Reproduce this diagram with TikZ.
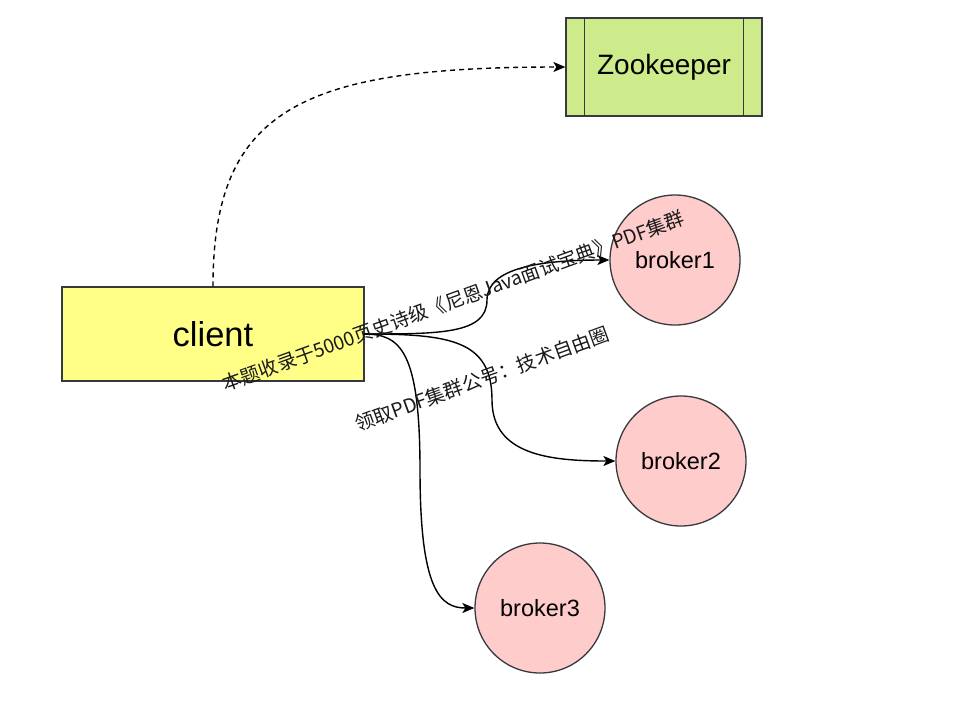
\documentclass[tikz,border=0pt]{standalone}
\usepackage{fontspec}
\setmainfont{Liberation Sans}
\newfontfamily\cjk{Noto Sans CJK SC}
\usetikzlibrary{arrows.meta}
\definecolor{strokec}{HTML}{36393D}
\definecolor{clientc}{HTML}{FFFF88}
\definecolor{zkc}{HTML}{CDEB8B}
\definecolor{brokerc}{HTML}{FFCCCC}
\tikzset{
  boxstyle/.style={draw=strokec, line width=1.3pt, inner sep=0pt},
  brokerstyle/.style={circle, draw=strokec, fill=brokerc, line width=1.3pt, minimum size=130pt, inner sep=0pt, font=\fontsize{23.5}{28}\selectfont},
  conn/.style={line width=1.4pt, -{Stealth[length=12pt,width=10pt,inset=3pt]}},
  wm/.style={font=\cjk\fontsize{19.4}{23}\selectfont, rotate=20, inner sep=0pt, text=black!90}
}
\begin{document}
\begin{tikzpicture}[x=1pt,y=-1pt]
\useasboundingbox (0,0) rectangle (955,713);
% nodes
\node[boxstyle, fill=clientc, minimum width=302pt, minimum height=94pt, font=\fontsize{34.5}{40}\selectfont] (client) at (213,334) {client};
\node[boxstyle, fill=zkc, minimum width=196pt, minimum height=98pt, font=\fontsize{28}{32}\selectfont] (zk) at (664,67) {Zookeeper};
\draw[strokec, line width=1.3pt] ([xshift=19pt]zk.north west) -- ([xshift=19pt]zk.south west);
\draw[strokec, line width=1.3pt] ([xshift=-19pt]zk.north east) -- ([xshift=-19pt]zk.south east);
\node[brokerstyle] (b1) at (675,260) {broker1};
\node[brokerstyle] (b2) at (681,461) {broker2};
\node[brokerstyle] (b3) at (540,608) {broker3};
\coordinate (cr) at (364,334);
% dashed edge to zookeeper
\draw[conn, dashed, dash pattern=on 5pt off 4pt] (client.north) .. controls (213,110) and (300,67) .. (zk.west);
% edges to brokers
\draw[conn] (cr) .. controls (440,334) and (487,334) .. (487,300) .. controls (487,268) and (540,260) .. (b1.west);
\draw[conn] (cr) .. controls (450,334) and (492,340) .. (492,400) .. controls (492,455) and (550,461) .. (b2.west);
\draw[conn] (cr) .. controls (400,334) and (420,350) .. (420,470) .. controls (420,590) and (440,608) .. (b3.west);
% watermark
\node[wm] (w1) at (453,301) {本题收录于5000页史诗级《尼恩Java面试宝典》PDF集群};
\node[wm] (w2) at (482,379) {领取PDF集群公号：技术自由圈};
\end{tikzpicture}
\end{document}
